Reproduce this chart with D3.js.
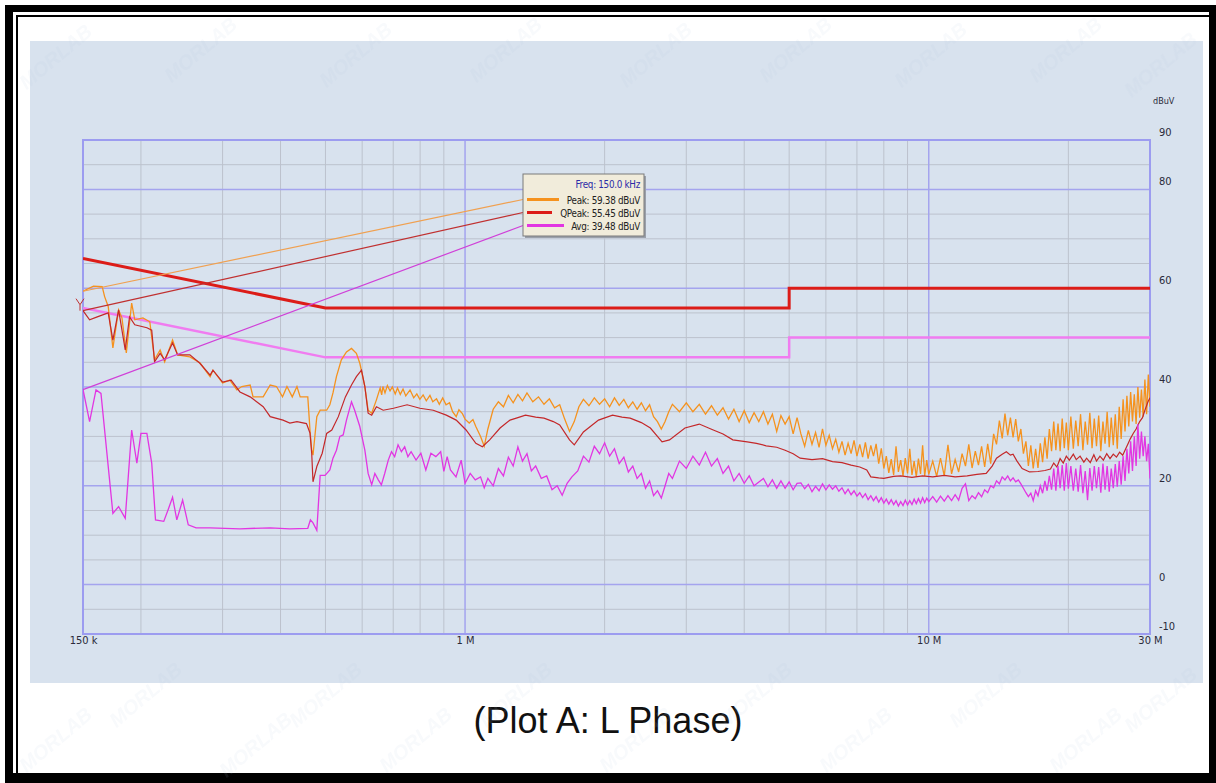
<!DOCTYPE html>
<html>
<head>
<meta charset="utf-8">
<script src="https://cdn.jsdelivr.net/npm/d3@7"></script>
<style>
  body { margin: 0; background: #fff; }
  svg { display: block; }
  .lbl { font-family: 'Liberation Sans Narrow', 'Arial Narrow', 'DejaVu Sans Condensed', sans-serif; }
</style>
</head>
<body>
<svg id="chart" width="1216" height="783"></svg>
<script>
// Axis ticks and grid (frequency in MHz, level in dBuV)
const xTickValues = [0.15, 1, 10, 30];
const xTickLabels = ["150 k", "1 M", "10 M", "30 M"];
const yTickValues = [90, 80, 60, 40, 20, 0, -10];
const xMajorGrid = [1, 10];
const xMinorGrid = [0.2, 0.3, 0.4, 0.5, 0.6, 0.7, 0.8, 0.9, 2, 3, 4, 5, 6, 7, 8, 9, 20];
const yMajorGrid = [80, 60, 40, 20, 0];
const yMinorGrid = [85, 75, 70, 65, 55, 50, 45, 35, 30, 25, 15, 10, 5, -5];

// Limit lines
const qpLimit = [[0.15, 66], [0.5, 56], [5, 56], [5, 60], [30, 60]];
const avLimit = [[0.15, 56], [0.5, 46], [5, 46], [5, 50], [30, 50]];

// Marker readout at 150 kHz
const markerFreq = 0.15;
const markerLabel = "Freq: 150.0 kHz";
const markerNames = ["Peak", "QPeak", "Avg"];
const markerValues = [59.38, 55.45, 39.48];

// Peak trace
const peakData = [
  [0.150,59.4],[0.158,60.4],[0.165,60.3],[0.167,58.3],[0.170,56.3],[0.174,47.9],[0.179,55.6],[0.182,54.0],
  [0.186,46.9],[0.191,57.0],[0.194,53.6],[0.202,54.0],[0.209,53.2],[0.214,45.5],[0.220,47.5],[0.225,45.1],
  [0.234,49.5],[0.240,46.5],[0.255,46.1],[0.268,44.9],[0.282,42.1],[0.286,43.4],[0.300,40.8],[0.311,41.4],
  [0.322,39.4],[0.330,40.1],[0.344,40.4],[0.349,38.0],[0.367,38.0],[0.380,40.4],[0.392,40.1],[0.404,38.0],
  [0.413,40.1],[0.424,38.0],[0.434,40.1],[0.441,38.0],[0.458,38.0],[0.463,31.3],[0.467,27.2],[0.470,26.2],
  [0.479,34.0],[0.487,35.3],[0.503,35.3],[0.511,36.4],[0.519,38.8],[0.528,42.1],[0.541,45.5],[0.555,47.1],
  [0.569,47.8],[0.583,46.8],[0.593,44.8],[0.608,40.1],[0.618,35.3],[0.629,34.7],[0.644,37.4],[0.650,38.6],
  [0.656,39.8],[0.661,38.4],[0.665,40.1],[0.672,38.8],[0.680,40.3],[0.689,39.2],[0.697,40.0],[0.707,38.6],
  [0.715,39.8],[0.725,38.5],[0.735,39.6],[0.745,38.2],[0.761,39.4],[0.775,37.8],[0.787,38.6],[0.799,37.5],
  [0.812,38.4],[0.825,37.2],[0.840,38.3],[0.852,37.0],[0.868,37.6],[0.880,36.5],[0.895,37.8],[0.910,36.4],
  [0.926,36.8],[0.940,35.0],[0.957,34.0],[0.970,35.4],[0.987,34.6],[1.000,33.5],[1.021,32.7],[1.040,33.4],
  [1.055,32.0],[1.08,30.0],[1.10,28.0],[1.12,31.5],[1.15,35.5],[1.18,37.0],[1.21,36.0],[1.24,38.3],
  [1.27,36.8],[1.30,38.5],[1.33,37.2],[1.36,38.8],[1.40,37.0],[1.44,38.0],[1.48,36.5],[1.52,37.6],
  [1.56,35.8],[1.60,36.4],[1.64,33.5],[1.68,31.0],[1.72,33.0],[1.76,36.0],[1.80,37.5],[1.85,36.2],
  [1.90,37.8],[1.95,36.5],[2.00,37.6],[2.05,36.0],[2.10,37.8],[2.15,36.3],[2.20,37.5],[2.25,35.8],
  [2.30,37.0],[2.35,35.5],[2.40,36.8],[2.45,35.2],[2.50,36.4],[2.55,34.0],[2.60,33.0],[2.65,31.5],
  [2.70,33.0],[2.75,35.0],[2.80,36.5],[2.90,35.0],[3.00,36.8],[3.10,35.0],[3.20,36.5],[3.30,34.5],
  [3.40,36.2],[3.50,34.3],[3.60,35.8],[3.70,33.5],[3.80,35.5],[3.90,33.0],[4.00,35.2],[4.10,32.8],
  [4.20,34.8],[4.30,33.0],[4.40,35.0],[4.50,32.5],[4.60,34.5],[4.70,31.0],[4.80,34.2],[4.90,32.5],
  [5.00,34.0],[5.10,30.5],[5.20,33.8],
  [5.3,30.5],[5.4,28.0],[5.5,31.2],[5.6,28.4],[5.7,30.8],[5.8,27.8],[5.9,31.5],[6.0,28.2],[6.1,30.2],
  [6.2,27.5],[6.3,29.4],[6.4,26.8],[6.5,29.0],[6.6,26.2],[6.7,28.6],[6.8,26.5],[6.9,29.2],[7.0,26.0],
  [7.1,28.4],[7.2,25.8],[7.3,28.8],[7.4,25.5],[7.5,28.2],[7.6,26.0],[7.7,28.5],[7.8,24.5],[7.9,27.6],
  [8.0,23.5],[8.1,26.0],[8.2,22.6],[8.3,25.4],[8.4,22.2],[8.5,28.0],[8.6,22.8],[8.7,25.2],[8.8,22.0],
  [8.9,25.6],[9.0,22.5],[9.1,27.5],[9.2,22.2],[9.3,25.0],[9.4,21.8],[9.5,25.5],[9.6,22.4],[9.7,28.2],
  [9.8,22.0],[9.9,25.2],[10.0,22.3],
  [10.2,25.0],[10.4,21.9],[10.6,25.6],[10.8,22.0],[11.0,28.3],[11.2,22.4],[11.4,25.3],[11.6,22.8],
  [11.8,26.5],[12.0,24.0],[12.2,28.4],[12.4,23.6],[12.6,27.0],[12.8,24.2],[13.0,28.0],[13.2,23.8],
  [13.4,28.5],[13.6,24.5],[13.8,30.5],[14.0,28.4],[14.2,33.2],[14.4,29.6],[14.6,34.6],[14.8,30.2],
  [15.0,33.8],[15.2,29.8],[15.4,33.5],[15.6,29.0],[15.8,31.5],[16.0,26.5],[16.2,29.0],[16.4,24.0],
  [16.6,28.2],[16.8,23.5],[17.0,27.5],[17.2,23.6],[17.4,28.6],[17.6,24.8],[17.8,29.8],[18.0,25.5],
  [18.2,31.5],[18.4,27.0],[18.6,33.0],[18.8,27.2],[19.0,32.6],[19.2,27.0],[19.4,33.6],[19.6,27.6],
  [19.8,32.8],[20.0,27.2],
  [20.25,34.0],[20.5,27.5],[20.75,33.2],[21.0,28.0],[21.25,34.5],[21.5,27.2],[21.75,33.0],[22.0,28.3],
  [22.25,34.8],[22.5,27.6],[22.75,33.6],[23.0,28.0],[23.25,34.2],[23.5,27.0],[23.75,33.0],[24.0,28.5],
  [24.25,35.0],[24.5,27.8],[24.75,33.8],[25.0,28.2],[25.25,34.5],[25.5,27.5],[25.75,36.0],[26.0,29.5],
  [26.25,37.5],[26.5,31.0],[26.75,38.2],[27.0,32.0],[27.25,39.0],[27.5,33.0],[27.75,38.5],[28.0,32.5],
  [28.25,40.0],[28.5,33.8],[28.75,39.5],[29.0,34.0],[29.25,41.5],[29.5,34.5],[29.75,42.5],[30.0,36.0]
];

// Quasi-peak trace
const qpeakData = [
  [0.150,55.45],[0.155,53.6],[0.161,54.2],[0.170,55.0],[0.174,49.5],[0.179,55.6],[0.185,47.5],[0.189,54.2],
  [0.194,52.6],[0.206,52.0],[0.211,51.5],[0.214,45.1],[0.220,46.8],[0.225,45.5],[0.234,48.9],[0.240,46.5],
  [0.255,46.5],[0.268,44.8],[0.282,42.4],[0.286,43.4],[0.300,41.0],[0.313,41.4],[0.327,39.0],[0.344,38.0],
  [0.367,36.0],[0.380,34.0],[0.405,33.3],[0.419,32.7],[0.434,33.0],[0.455,32.6],[0.463,30.7],[0.467,26.6],
  [0.470,20.8],[0.479,23.9],[0.492,26.6],[0.503,30.6],[0.516,31.3],[0.533,34.0],[0.552,38.0],[0.569,40.4],
  [0.583,42.1],[0.598,43.4],[0.608,40.1],[0.618,34.7],[0.629,34.3],[0.644,36.0],[0.666,35.3],[0.701,35.7],
  [0.750,36.4],[0.799,35.7],[0.854,35.3],[0.911,34.3],[0.957,33.3],[1.005,31.3],[1.055,28.6],[1.09,27.9],
  [1.13,29.3],[1.19,31.7],[1.25,33.3],[1.30,33.8],[1.35,34.3],[1.42,33.9],[1.48,33.7],[1.55,33.0],
  [1.60,32.3],[1.68,29.3],[1.72,28.3],[1.80,30.9],[1.94,33.3],[2.08,34.3],[2.18,33.9],[2.27,33.7],
  [2.40,32.8],[2.51,31.7],[2.66,28.9],[2.76,29.3],[2.98,31.7],[3.20,32.5],[3.43,31.3],[3.60,30.5],
  [3.78,29.3],[4.06,28.9],[4.25,28.6],[4.46,28.1],[4.70,27.8],[4.90,27.2],[5.10,26.5],[5.28,25.6],
  [5.6,25.3],[5.9,25.5],[6.2,24.9],[6.5,24.7],[6.8,24.2],[7.1,23.8],[7.35,23.2],[7.5,21.8],[7.8,21.6],
  [8.0,21.5],[8.4,21.9],[8.7,22.0],[9.2,21.7],[9.7,22.0],[10.2,21.8],[10.8,22.1],[11.4,21.8],[12.1,22.0],
  [12.7,22.3],[13.3,22.5],[13.7,24.0],[14.0,25.6],[14.4,26.4],[14.7,26.9],[15.0,26.2],[15.2,26.4],
  [15.5,25.0],[15.9,23.5],[16.5,22.8],[17.2,22.9],[17.8,23.1],[18.3,23.4],[18.6,24.6],[18.9,23.8],
  [19.2,25.5],[19.5,24.6],[19.8,26.0],[20.1,25.2],[20.5,26.4],[20.8,25.3],[21.2,26.0],[21.6,24.8],
  [21.9,25.6],[22.3,24.7],[22.7,26.3],[23.0,25.0],[23.4,26.0],[23.8,25.2],[24.2,26.5],[24.6,25.5],
  [25.0,26.4],[25.4,25.8],[25.8,26.8],[26.2,26.2],[26.5,27.2],[26.9,28.5],[27.2,29.5],[27.6,30.6],
  [28.0,31.5],[28.5,33.0],[28.9,33.8],[29.3,35.5],[29.7,37.0],[30.0,37.8]
];

// Average trace
const avgData = [
  [0.150,39.5],[0.155,33.0],[0.160,39.4],[0.164,38.7],[0.174,14.4],[0.179,15.8],[0.185,13.4],[0.191,31.3],
  [0.196,24.6],[0.200,30.6],[0.206,30.6],[0.211,24.6],[0.215,13.1],[0.224,12.8],[0.229,15.2],[0.234,17.7],
  [0.239,13.1],[0.246,17.1],[0.253,12.1],[0.263,11.5],[0.282,11.5],[0.327,11.3],[0.380,11.5],[0.419,11.3],
  [0.458,11.4],[0.464,13.1],[0.470,12.5],[0.479,11.0],[0.487,22.1],[0.499,22.1],[0.511,23.2],[0.519,25.6],
  [0.528,27.2],[0.537,30.0],[0.546,30.3],[0.555,33.3],[0.569,37.0],[0.578,35.3],[0.593,32.0],[0.608,27.2],
  [0.618,22.5],[0.629,20.2],[0.639,22.5],[0.650,21.2],[0.660,20.2],[0.671,22.5],[0.683,25.2],[0.694,26.9],
  [0.705,25.9],[0.717,28.3],[0.729,26.9],[0.741,27.9],[0.753,25.9],[0.765,26.9],[0.784,25.2],[0.803,26.6],
  [0.823,23.2],[0.844,26.6],[0.865,25.9],[0.886,26.9],[0.900,22.9],[0.915,25.9],[0.930,23.2],[0.956,21.8],
  [0.981,25.2],[1.000,20.5],[1.026,22.5],[1.052,21.2],[1.08,21.8],
  [1.10,19.6],[1.12,21.5],[1.15,20.0],[1.18,23.5],[1.21,22.0],[1.24,25.8],[1.27,24.0],[1.30,27.9],
  [1.33,25.0],[1.36,26.5],[1.39,23.0],[1.42,24.0],[1.46,21.5],[1.50,22.0],[1.54,19.2],[1.58,20.0],
  [1.62,18.1],[1.66,20.5],[1.70,21.8],[1.75,23.0],[1.80,26.0],[1.85,24.8],[1.90,28.0],[1.95,26.5],
  [2.00,28.7],[2.05,26.0],[2.10,27.5],[2.15,24.5],[2.20,25.8],[2.25,22.8],[2.30,24.0],[2.35,21.5],
  [2.40,22.5],[2.45,19.5],[2.50,21.0],[2.55,18.0],[2.60,19.0],[2.65,17.5],[2.70,20.0],[2.75,22.5],
  [2.80,21.5],[2.90,25.0],[3.00,23.5],[3.10,26.0],[3.20,24.2],[3.30,26.8],[3.40,24.0],[3.50,25.5],
  [3.60,22.5],[3.70,24.0],[3.80,21.0],[3.90,22.5],[4.00,20.5],[4.10,22.0],[4.20,20.0],[4.40,21.5],
  [4.50,19.8],[4.60,21.2],[4.70,19.5],[4.80,21.0],[4.90,19.5],[5.00,20.8],[5.10,19.2],[5.20,20.5],
  [5.3,20.6],[5.4,19.4],[5.5,20.3],[5.6,18.8],[5.7,19.9],[5.8,19.0],[5.9,20.4],[6.0,19.2],[6.1,20.2],
  [6.2,19.3],[6.3,20.0],[6.4,18.9],[6.5,19.6],[6.6,18.4],[6.7,19.3],[6.8,18.2],[6.9,19.0],[7.0,17.9],
  [7.1,18.6],[7.2,17.6],[7.3,18.4],[7.4,17.2],[7.5,18.0],[7.6,17.0],[7.7,17.8],[7.8,16.7],[7.9,17.6],
  [8.0,16.5],[8.1,17.3],[8.2,16.3],[8.3,17.2],[8.4,16.2],[8.5,17.0],[8.6,15.9],[8.7,16.8],[8.8,16.0],
  [8.9,17.1],[9.0,16.1],[9.1,17.0],[9.2,16.2],[9.3,17.3],[9.4,16.4],[9.5,17.4],[9.6,16.5],[9.7,17.6],
  [9.8,16.6],[9.9,17.5],[10.0,16.8],
  [10.2,17.8],[10.4,16.7],[10.6,17.9],[10.8,16.9],[11.0,18.0],[11.2,17.0],[11.4,18.2],[11.6,17.1],
  [11.8,19.5],[12.0,20.4],[12.2,17.0],[12.4,18.0],[12.6,17.4],[12.8,18.6],[13.0,17.8],[13.2,19.2],
  [13.4,18.6],[13.6,20.0],[13.8,19.6],[14.0,21.0],[14.2,20.4],[14.4,21.8],[14.6,21.2],[14.8,22.0],
  [15.0,21.0],[15.2,21.6],[15.4,20.8],[15.6,21.2],[15.8,20.4],[16.0,19.5],[16.2,18.6],[16.4,17.8],
  [16.6,18.5],[16.8,17.0],[17.0,19.0],[17.2,18.0],[17.4,20.0],[17.6,18.5],[17.8,21.0],[18.0,19.0],
  [18.2,22.0],[18.4,19.2],[18.6,23.5],[18.8,19.0],[19.0,24.0],[19.2,19.5],[19.4,24.2],[19.6,19.0],
  [19.8,24.6],[20.0,19.4],
  [20.25,24.0],[20.5,19.0],[20.75,23.5],[21.0,18.8],[21.25,24.2],[21.5,18.5],[21.75,23.0],[22.0,17.1],
  [22.25,23.6],[22.5,19.0],[22.75,24.0],[23.0,19.5],[23.25,23.8],[23.5,18.6],[23.75,24.5],[24.0,19.2],
  [24.25,24.0],[24.5,18.8],[24.75,23.5],[25.0,19.5],[25.25,24.4],[25.5,19.8],[25.75,25.0],[26.0,20.2],
  [26.25,26.0],[26.5,21.0],[26.75,27.5],[27.0,22.5],[27.25,29.0],[27.5,23.0],[27.75,30.0],[28.0,24.0],
  [28.25,32.5],[28.5,25.5],[28.75,31.0],[29.0,26.0],[29.25,30.0],[29.5,25.0],[29.75,28.5],[30.0,21.5]
];

const caption = "(Plot A: L Phase)";

const svg = d3.select("#chart");
const W = 1216, H = 783;

// Page frame (double black border)
const frame = svg.append("g");
frame.append("rect").attr("x", 5).attr("y", 5).attr("width", W - 5).attr("height", 7).attr("fill", "#000");
frame.append("rect").attr("x", 5).attr("y", 5).attr("width", 8).attr("height", H - 5).attr("fill", "#000");
frame.append("rect").attr("x", 16).attr("y", 15).attr("width", W - 16).attr("height", 2).attr("fill", "#000");
frame.append("rect").attr("x", 16).attr("y", 15).attr("width", 2).attr("height", H - 15).attr("fill", "#000");
frame.append("rect").attr("x", W - 7).attr("y", 5).attr("width", 7).attr("height", H - 5).attr("fill", "#000");
frame.append("rect").attr("x", 5).attr("y", H - 10).attr("width", W - 5).attr("height", 10).attr("fill", "#000");

// Chart panel
svg.append("rect")
  .attr("x", 30).attr("y", 41)
  .attr("width", 1173).attr("height", 642)
  .attr("fill", "#d8e2ee");

const x = d3.scaleLog().domain([0.15, 30]).range([83, 1150]);
const y = d3.scaleLinear().domain([-10, 90]).range([634, 140]);

// Grid
const grid = svg.append("g");
grid.selectAll(".yminor").data(yMinorGrid).enter().append("line")
  .attr("x1", x(0.15)).attr("x2", x(30))
  .attr("y1", d => y(d)).attr("y2", d => y(d))
  .attr("stroke", "#bcc2cd").attr("stroke-width", 1);
grid.selectAll(".xminor").data(xMinorGrid).enter().append("line")
  .attr("x1", d => x(d)).attr("x2", d => x(d))
  .attr("y1", y(90)).attr("y2", y(-10))
  .attr("stroke", "#bcc2cd").attr("stroke-width", 1);
grid.selectAll(".ymajor").data(yMajorGrid).enter().append("line")
  .attr("x1", x(0.15)).attr("x2", x(30))
  .attr("y1", d => y(d)).attr("y2", d => y(d))
  .attr("stroke", "#a4a4ee").attr("stroke-width", 1.5);
grid.selectAll(".xmajor").data(xMajorGrid).enter().append("line")
  .attr("x1", d => x(d)).attr("x2", d => x(d))
  .attr("y1", y(90)).attr("y2", y(-10))
  .attr("stroke", "#a4a4ee").attr("stroke-width", 1.5);
grid.append("rect")
  .attr("x", x(0.15)).attr("y", y(90))
  .attr("width", x(30) - x(0.15)).attr("height", y(-10) - y(90))
  .attr("fill", "none").attr("stroke", "#9c9cf0").attr("stroke-width", 2);

// Axes
const xAxis = svg.append("g")
  .attr("transform", `translate(0,${y(-10) + 1})`)
  .call(d3.axisBottom(x).tickValues(xTickValues).tickSize(0)
    .tickFormat((d, i) => xTickLabels[i]));
xAxis.select(".domain").remove();
xAxis.selectAll("text").attr("class", "lbl").attr("font-size", 11).attr("fill", "#2a2a3a").attr("dy", "0.55em");

const yAxis = svg.append("g")
  .attr("transform", `translate(${x(30) + 6},-8)`)
  .call(d3.axisRight(y).tickValues(yTickValues).tickSize(0).tickFormat(d => String(d)));
yAxis.select(".domain").remove();
yAxis.selectAll("text").attr("class", "lbl").attr("font-size", 11).attr("fill", "#2a2a3a");

svg.append("text")
  .attr("class", "lbl")
  .attr("x", x(30) + 3).attr("y", 104)
  .attr("font-size", 9).attr("fill", "#2a2a3a")
  .text("dBuV");

// Plot clip
svg.append("clipPath").attr("id", "plotClip").append("rect")
  .attr("x", x(0.15)).attr("y", y(90))
  .attr("width", x(30) - x(0.15)).attr("height", y(-10) - y(90));

const line = d3.line().x(d => x(d[0])).y(d => y(d[1]));
const plot = svg.append("g").attr("clip-path", "url(#plotClip)");

// Limits
plot.append("path").datum(avLimit).attr("d", line)
  .attr("fill", "none").attr("stroke", "#f07cf0").attr("stroke-width", 2.5);
plot.append("path").datum(qpLimit).attr("d", line)
  .attr("fill", "none").attr("stroke", "#dc1c18").attr("stroke-width", 3);

// Traces
plot.append("path").datum(peakData).attr("d", line)
  .attr("fill", "none").attr("stroke", "#f5921e").attr("stroke-width", 1.3);
plot.append("path").datum(qpeakData).attr("d", line)
  .attr("fill", "none").attr("stroke", "#c4282a").attr("stroke-width", 1.2);
plot.append("path").datum(avgData).attr("d", line)
  .attr("fill", "none").attr("stroke", "#e236e2").attr("stroke-width", 1.3);

// Marker legend box
const box = { x: 523, y: 174, w: 121, h: 62 };
const rowY = [199.5, 212.5, 225.5];
const markColors = ["#f0a050", "#c03030", "#d040d8"];
const sampleColors = ["#f5921e", "#dc1c18", "#e236e2"];
const sampleLen = [32, 25, 37];

// lines from the marker point to the box
svg.selectAll(".mline").data(markerValues).enter().append("line")
  .attr("x1", x(markerFreq)).attr("y1", d => y(d))
  .attr("x2", box.x).attr("y2", (d, i) => rowY[i])
  .attr("stroke", (d, i) => markColors[i]).attr("stroke-width", 1.2);

// small marker glyph
const mx = x(markerFreq), my = y(markerValues[1]);
svg.append("path")
  .attr("d", `M${mx - 7},${my - 12} L${mx - 3},${my - 6} L${mx + 1},${my - 12} M${mx - 3},${my - 6} L${mx - 3},${my}`)
  .attr("fill", "none").attr("stroke", "#c03030").attr("stroke-width", 1);

const lg = svg.append("g").attr("transform", `translate(${box.x},${box.y})`);
lg.append("rect").attr("x", 2).attr("y", 2).attr("width", box.w).attr("height", box.h).attr("fill", "#9aa0aa");
lg.append("rect").attr("width", box.w).attr("height", box.h)
  .attr("fill", "#f1ecdb").attr("stroke", "#7a7a7a").attr("stroke-width", 1);
lg.append("text").attr("class", "lbl")
  .attr("x", box.w - 4).attr("y", 14).attr("text-anchor", "end")
  .attr("font-size", 9.8).attr("letter-spacing", -0.3).attr("fill", "#2c2ca8")
  .text(markerLabel);
markerNames.forEach((name, i) => {
  const ry = rowY[i] - box.y;
  lg.append("line")
    .attr("x1", 4).attr("x2", 4 + sampleLen[i])
    .attr("y1", ry).attr("y2", ry)
    .attr("stroke", sampleColors[i]).attr("stroke-width", 3);
  lg.append("text").attr("class", "lbl")
    .attr("x", box.w - 4).attr("y", ry + 4).attr("text-anchor", "end")
    .attr("font-size", 9.8).attr("letter-spacing", -0.3).attr("fill", "#222")
    .text(`${name}: ${markerValues[i].toFixed(2)} dBuV`);
});

// Caption
svg.append("text")
  .attr("x", 608).attr("y", 733)
  .attr("text-anchor", "middle")
  .attr("font-family", "'Liberation Sans', Arial, sans-serif")
  .attr("font-size", 36).attr("fill", "#111")
  .text(caption);

// Faint watermark
const wm = svg.append("g").attr("fill", "#b8c8e0").attr("opacity", 0.1)
  .attr("font-family", "'Liberation Sans', Arial, sans-serif")
  .attr("font-weight", "bold").attr("font-style", "italic").attr("font-size", 20);
[[60, 62], [205, 55], [360, 60], [510, 55], [660, 60], [800, 55], [935, 60], [1070, 55], [1165, 70],
 [60, 745], [150, 700], [260, 750], [330, 700], [420, 745], [520, 700], [640, 745], [760, 700],
 [860, 745], [990, 700], [1090, 745], [1165, 705]].forEach(p => {
  wm.append("text").attr("transform", `translate(${p[0]},${p[1]}) rotate(-40)`)
    .attr("text-anchor", "middle").text("MORLAB");
});
</script>
</body>
</html>
